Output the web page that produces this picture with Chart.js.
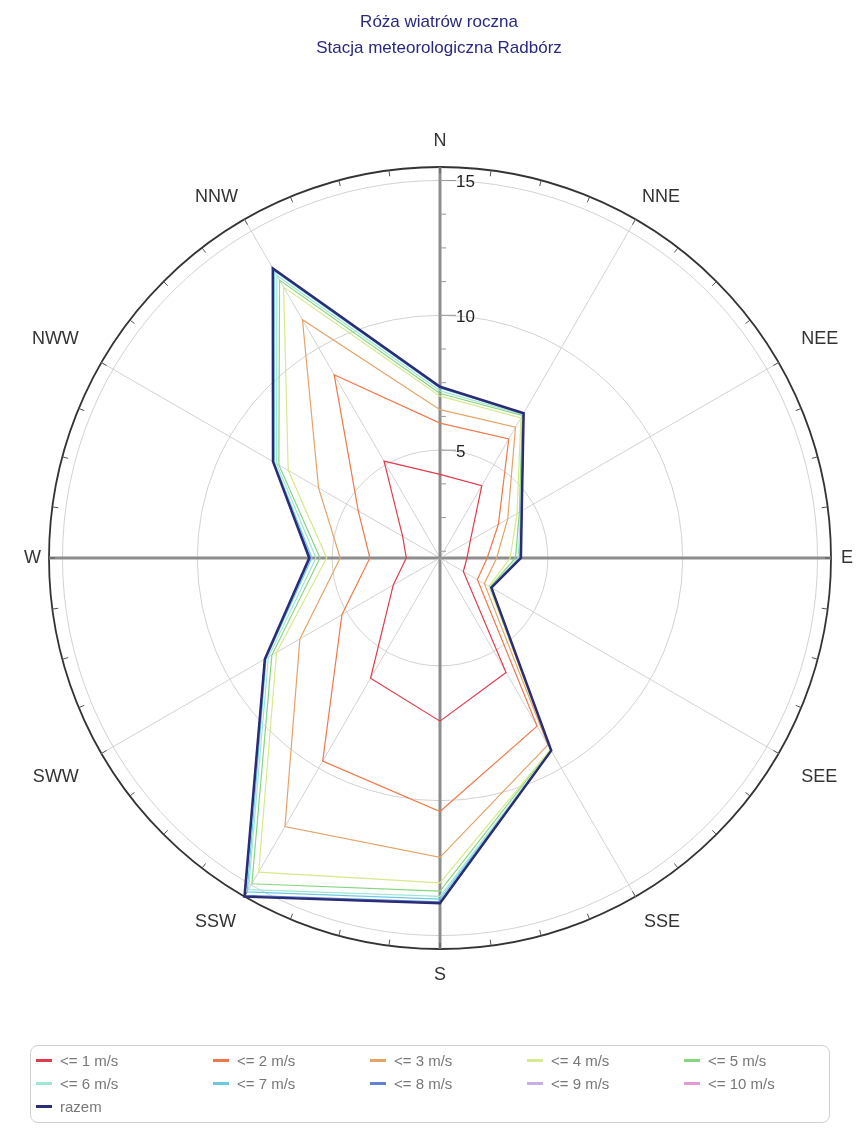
<!DOCTYPE html>
<html>
<head>
<meta charset="utf-8">
<script src="https://cdn.jsdelivr.net/npm/chart.js@4"></script>
<style>
  html, body { margin: 0; padding: 0; background: #fff; }
  #wrap { position: relative; width: 859px; height: 1137px; }
  #legend {
    position: absolute; left: 30px; top: 1045px; width: 800px;
    box-sizing: border-box; border: 1px solid #cfcfcf; border-radius: 8px;
    padding: 3px 0 4px 5px;
    display: grid; grid-template-columns: 177px 157px 157px 157px 157px;
    font: 15px "Liberation Sans", Arial, sans-serif; color: #777;
  }
  #legend span { display: flex; align-items: center; height: 23px; }
  #legend i { display: inline-block; width: 16px; height: 3px; margin-right: 8px; }
</style>
</head>
<body>
<div id="wrap">
  <canvas id="rose"></canvas>
  <div id="legend"></div>
</div>
<script>
var directions = ["N", "NNE", "NEE", "E", "SEE", "SSE", "S", "SSW", "SWW", "W", "NWW", "NNW"];

var speed_1  = [4.1, 4.1, 2.3, 2.0, 2.0, 5.9, 7.05, 6.15, 3.0, 2.25, 2.6, 5.15];
var speed_2  = [6.0, 6.1, 3.5, 2.75, 2.6, 8.2, 10.4, 9.7, 5.2, 3.6, 4.5, 8.85];
var speed_3  = [6.5, 6.6, 3.9, 3.1, 2.9, 9.0, 12.1, 12.5, 7.0, 4.7, 6.2, 11.2];
var speed_4  = [7.0, 7.0, 4.3, 3.6, 3.1, 9.2, 13.05, 14.45, 8.0, 5.2, 7.5, 12.6];
var speed_5  = [7.1, 7.1, 4.4, 3.8, 3.15, 9.2, 13.35, 14.95, 8.2, 5.45, 7.9, 12.9];
var speed_6  = [7.2, 7.15, 4.45, 3.9, 3.2, 9.25, 13.55, 15.2, 8.35, 5.6, 8.0, 13.1];
var speed_7  = [7.3, 7.2, 4.5, 3.95, 3.2, 9.25, 13.65, 15.3, 8.45, 5.75, 8.1, 13.3];
var speed_8  = [7.35, 7.2, 4.5, 4.0, 3.2, 9.25, 13.75, 15.45, 8.5, 5.8, 8.15, 13.4];
var speed_9  = [7.35, 7.2, 4.5, 4.0, 3.2, 9.25, 13.8, 15.5, 8.5, 5.85, 8.15, 13.4];
var speed_10 = [7.35, 7.2, 4.5, 4.0, 3.2, 9.25, 13.8, 15.5, 8.5, 5.85, 8.15, 13.4];
var razem    = [7.35, 7.2, 4.5, 4.0, 3.2, 9.25, 13.8, 15.5, 8.5, 5.85, 8.15, 13.4];

var seriesNames = ["<= 1 m/s", "<= 2 m/s", "<= 3 m/s", "<= 4 m/s", "<= 5 m/s",
                   "<= 6 m/s", "<= 7 m/s", "<= 8 m/s", "<= 9 m/s", "<= 10 m/s", "razem"];
var seriesData = [speed_1, speed_2, speed_3, speed_4, speed_5, speed_6, speed_7, speed_8, speed_9, speed_10, razem];
var seriesColors = ["#e23b4c", "#f0794a", "#e6a366", "#d6e98c", "#86d67e", "#9fe6d6",
                    "#6cc9e6", "#5f82d2", "#c8aee6", "#e49ada", "#2b2c76"];

var scaleMin = 1;
var scaleMax = 15.5;
var ringLabels = [5, 10, 15];

const datasets_rose = seriesNames.map((name, i) => ({
  label: name,
  data: seriesData[i],
  borderColor: seriesColors[i],
  backgroundColor: seriesColors[i],
  borderWidth: name === "razem" ? 2.5 : 1.2,
  pointRadius: 0,
  fill: false,
  order: name === "razem" ? 0 : i + 1,
}));

// gap between rim and direction label
var labelGaps = [15, 13, 26, 10, 26, 17, 15, 17, 26, 8, 26, 13];

// small ticks, ring numbers and the rim marks
const roseDecor = {
  id: "roseDecor",
  beforeDatasetsDraw(chart) {
    const s = chart.scales.r;
    const ctx = chart.ctx;
    const cx = s.xCenter, cy = s.yCenter;
    const R = s.getDistanceFromCenterForValue(s.max);
    ctx.save();
    ctx.strokeStyle = "#555";
    ctx.lineWidth = 1;
    for (let a = 0; a < 360; a += 7.5) {
      const t = a * Math.PI / 180;
      ctx.beginPath();
      ctx.moveTo(cx + Math.sin(t) * R, cy - Math.cos(t) * R);
      ctx.lineTo(cx + Math.sin(t) * (R - 6), cy - Math.cos(t) * (R - 6));
      ctx.stroke();
    }
    ctx.strokeStyle = "#999";
    for (let v = 1.25; v < s.max; v += 1.25) {
      const d = s.getDistanceFromCenterForValue(v);
      const major = ringLabels.indexOf(v) >= 0;
      ctx.beginPath();
      ctx.moveTo(cx, cy - d);
      ctx.lineTo(cx + (major ? 16 : 6), cy - d);
      ctx.stroke();
    }
    ctx.fillStyle = "#222";
    ctx.font = '17px "Liberation Sans", Arial';
    ctx.textAlign = "left";
    ctx.textBaseline = "middle";
    ringLabels.forEach((v) => {
      const d = s.getDistanceFromCenterForValue(v);
      ctx.fillText(String(v), cx + 16, cy - d + 2);
    });
    ctx.restore();
  },
};

const config_rose = {
  type: "radar",
  data: { labels: directions, datasets: datasets_rose },
  options: {
    responsive: true,
    maintainAspectRatio: false,
    animation: false,
    layout: { padding: { left: 23, right: 4, top: 0, bottom: 84 } },
    scales: {
      r: {
        min: scaleMin,
        max: scaleMax,
        afterBuildTicks: (scale) => {
          scale.ticks = [scaleMin].concat(ringLabels, [scaleMax]).map((v) => ({ value: v }));
        },
        ticks: { display: false },
        grid: {
          circular: true,
          color: (c) => (c.tick && c.tick.value === scaleMax ? "#333" : "#d2d2d2"),
          lineWidth: (c) => (c.tick && c.tick.value === scaleMax ? 1.8 : 1),
        },
        angleLines: {
          color: (c) => (c.index % 3 === 0 ? "#8d8d8d" : "#d2d2d2"),
          lineWidth: (c) => (c.index % 3 === 0 ? 3 : 1),
        },
        pointLabels: {
          color: "#333",
          padding: (c) => labelGaps[c.index],
          font: { family: '"Liberation Sans", Arial', size: 18 },
        },
      },
    },
    plugins: {
      title: {
        display: true,
        text: ["Róża wiatrów roczna", "Stacja meteorologiczna Radbórz"],
        color: "#28297e",
        font: { family: '"Liberation Sans", Arial', size: 17, weight: "normal", lineHeight: 1.5 },
        padding: { top: 10, bottom: 2 },
      },
      legend: { display: false },
      tooltip: { enabled: false },
    },
  },
  plugins: [roseDecor],
};

const rose = new Chart(document.getElementById("rose"), config_rose);

// html legend in five columns
const legendBox = document.getElementById("legend");
rose.data.datasets.forEach((ds) => {
  const item = document.createElement("span");
  const mark = document.createElement("i");
  mark.style.background = ds.borderColor;
  item.appendChild(mark);
  item.appendChild(document.createTextNode(ds.label));
  legendBox.appendChild(item);
});
</script>
</body>
</html>
